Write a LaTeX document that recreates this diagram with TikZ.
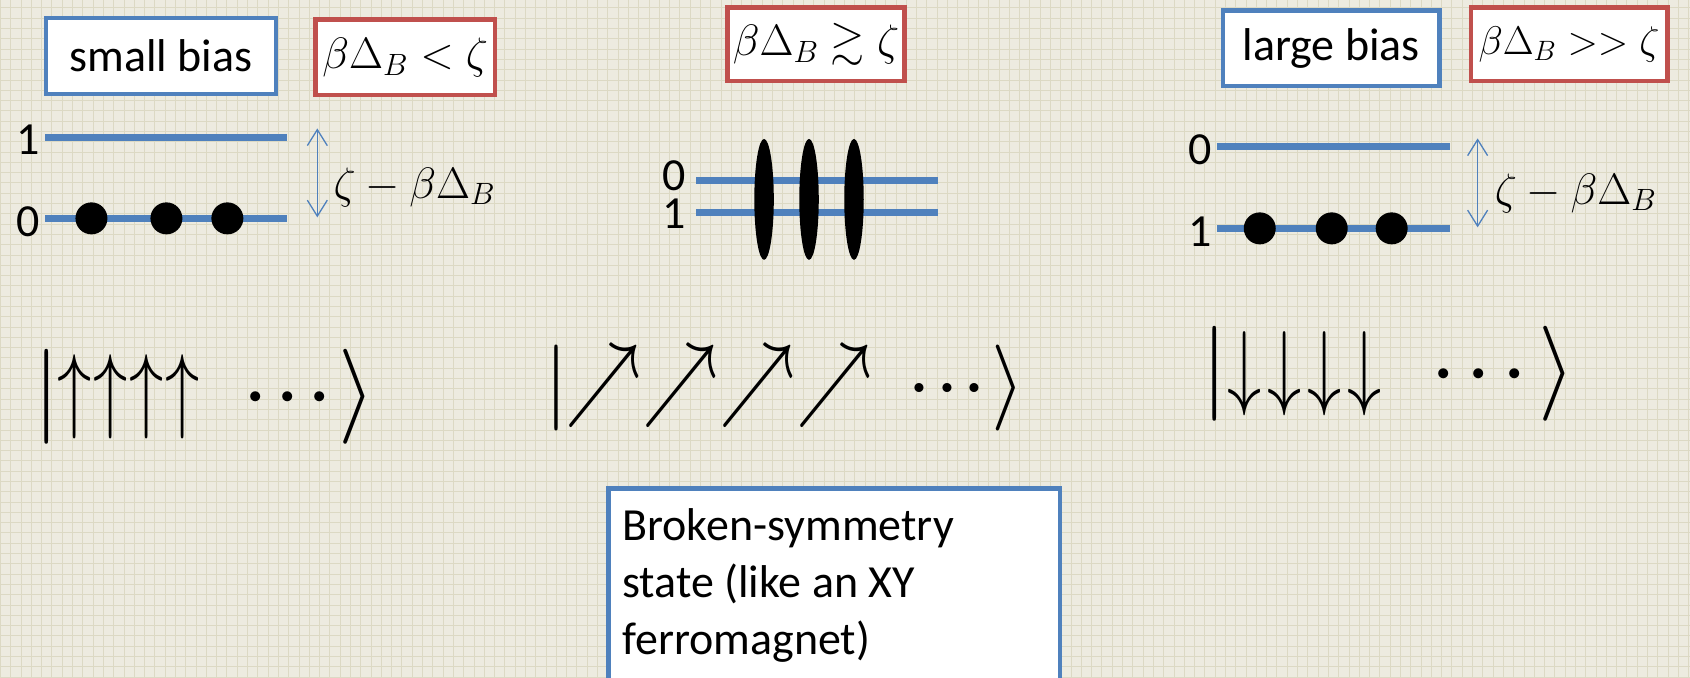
\RequirePackage{fix-cm}
\documentclass[tikz,border=0pt]{standalone}
\usepackage{amsmath,amssymb}
\usepackage{fontspec}
\setmainfont{Carlito}
\usetikzlibrary{shapes.geometric, arrows.meta, positioning}
\definecolor{slideblue}{HTML}{4F81BD}
\definecolor{slidered}{HTML}{C0504D}
\definecolor{paper}{HTML}{EDEBE0}
\definecolor{paperline}{HTML}{DCD9C4}
\newcommand{\spinup}{\mathord{\scalebox{0.72}[1]{$\uparrow$}}}
\newcommand{\spindown}{\mathord{\scalebox{0.72}[1]{$\downarrow$}}}
\newcommand{\spinxy}{\mathord{\scalebox{0.88}[1.08]{$\nearrow$}}}

\begin{document}
\begin{tikzpicture}[x=1pt, y=1pt,
    txt/.style={font=\fontsize{46}{57}\selectfont, inner sep=0pt},
    mth/.style={font=\fontsize{44}{52}\selectfont, inner sep=0pt},
    bluebox/.style={draw=slideblue, line width=4.5pt, fill=white, inner sep=0pt},
    redbox/.style={draw=slidered, line width=4.5pt, fill=white, inner sep=0pt},
    level/.style={slideblue, line width=7pt},
    gap/.style={slideblue, line width=1.3pt, {Straight Barb[length=16pt,width=20pt]}-{Straight Barb[length=16pt,width=20pt]}},
    dot/.style={circle, fill=black, minimum size=32pt, inner sep=0pt},
    blob/.style={ellipse, fill=black, minimum width=19.5pt, minimum height=121pt, inner sep=0pt},
    ket/.style={anchor=base west, inner sep=0pt}]

    % Slide background
    \fill[paper] (0,0) rectangle (1690,677);
    \draw[paperline, line width=1pt, step=10.3pt] (0,0) grid (1690,677);
    \useasboundingbox (0,0) rectangle (1690,677);

    % Small bias
    \node[bluebox, txt, minimum width=230pt, minimum height=76pt] (smallbias) at (160.5,621.5) {small bias};
    \node[redbox, mth, minimum width=179.5pt, minimum height=75.5pt] (condsmall) at (405,620) {$\beta\Delta_B < \zeta$};
    \coordinate (upA) at (45,540);
    \coordinate (upB) at (287,540);
    \coordinate (lowA) at (45,459);
    \coordinate (lowB) at (287,459);
    \draw[level] (upA) -- (upB);
    \draw[level] (lowA) -- (lowB);
    \node[txt, left=5pt of upA, yshift=-2pt] (oneL) {1};
    \node[txt, left=5pt of lowA, yshift=-3pt] (zeroL) {0};
    \node[dot] (dotLa) at (91,459) {};
    \node[dot] (dotLb) at (166,459) {};
    \node[dot] (dotLc) at (227,459) {};
    \coordinate (gapTopL) at (317,549);
    \coordinate (gapBotL) at (317,460);
    \draw[gap] (gapTopL) -- (gapBotL);
    \node[mth, anchor=west] (gapL) at (333,490) {$\zeta-\beta\Delta_B$};

    % Crossover
    \node[redbox, mth, minimum width=177.5pt, minimum height=73.5pt] (condmid) at (816,633) {$\beta\Delta_B \gtrsim \zeta$};
    \coordinate (midUpA) at (696,497);
    \coordinate (midUpB) at (938,497);
    \coordinate (midLowA) at (696,465);
    \coordinate (midLowB) at (938,465);
    \draw[level] (midUpA) -- (midUpB);
    \draw[level] (midLowA) -- (midLowB);
    \node[txt] (zeroM) at (674,501.5) {0};
    \node[txt] (oneM) at (674,464) {1};
    \node[blob] (blobA) at (764,478) {};
    \node[blob] (blobB) at (809,478) {};
    \node[blob] (blobC) at (854,478) {};

    % Large bias
    \node[bluebox, txt, minimum width=216.5pt, minimum height=75.5pt] (largebias) at (1331.5,629) {large bias};
    \node[redbox, mth, font=\fontsize{40}{48}\selectfont, minimum width=196.5pt, minimum height=73.5pt] (condlarge) at (1569.5,633) {$\beta\Delta_B >> \zeta$};
    \coordinate (rUpA) at (1217,531);
    \coordinate (rUpB) at (1450,531);
    \coordinate (rLowA) at (1217,449);
    \coordinate (rLowB) at (1450,449);
    \draw[level] (rUpA) -- (rUpB);
    \draw[level] (rLowA) -- (rLowB);
    \node[txt, left=5pt of rUpA, yshift=-3pt] (zeroR) {0};
    \node[txt, left=5pt of rLowA, yshift=-3pt] (oneR) {1};
    \node[dot] (dotRa) at (1260,449) {};
    \node[dot] (dotRb) at (1332,449) {};
    \node[dot] (dotRc) at (1392,449) {};
    \coordinate (gapTopR) at (1478,539);
    \coordinate (gapBotR) at (1478,450);
    \draw[gap] (gapTopR) -- (gapBotR);
    \node[mth, anchor=west] (gapR) at (1495,484) {$\zeta-\beta\Delta_B$};

    % Spin states
    \node[ket, font=\fontsize{95}{95}\selectfont] (ketup) at (33,257)
        {$|\mkern-0.45mu\spinup\mkern0.35mu\spinup\mkern0.35mu\spinup\mkern0.35mu\spinup\mkern8mu{\cdot}\mkern1.1mu{\cdot}\mkern1.1mu{\cdot}\mkern1.1mu\rangle$};
    \node[ket, font=\fontsize{86}{86}\selectfont] (ketxy) at (544,267.5)
        {$|\mkern-0.5mu\spinxy\mkern0.27mu\spinxy\mkern0.27mu\spinxy\mkern0.27mu\spinxy\mkern7.4mu{\cdot}\mkern0.8mu{\cdot}\mkern0.8mu{\cdot}\mkern1mu\rangle$};
    \node[ket, font=\fontsize{95}{95}\selectfont] (ketdown) at (1201,280)
        {$|\spindown\mkern1.1mu\spindown\mkern1.1mu\spindown\mkern1.1mu\spindown\mkern9.3mu{\cdot}\mkern1.7mu{\cdot}\mkern1.7mu{\cdot}\mkern2.1mu\rangle$};

    % Note
    \node[bluebox, anchor=north west, minimum width=452pt, minimum height=230pt] (brokenbox) at (606,191) {};
    \node[txt, anchor=north west, align=left] (brokentxt) at (622,169) {Broken-symmetry\\state (like an XY\\ferromagnet)};
\end{tikzpicture}
\end{document}
